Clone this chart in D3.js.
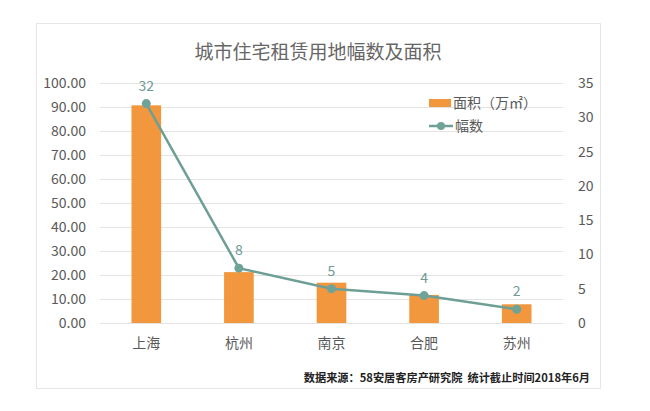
<!DOCTYPE html>
<html>
<head>
<meta charset="utf-8">
<script src="https://cdn.jsdelivr.net/npm/d3@7"></script>
<style>
  body { margin: 0; background: #fff; }
  text { font-family: "Noto Sans CJK SC", "Noto Sans", sans-serif; }
</style>
</head>
<body>
<svg id="chart" width="650" height="411"></svg>
<script>
const cities = ["上海", "杭州", "南京", "合肥", "苏州"]
const areas = [90.7, 21.2, 16.8, 11.7, 7.8]      // 面积（万㎡）
const counts = [32, 8, 5, 4, 2]                    // 幅数
const leftTicks = [0, 10, 20, 30, 40, 50, 60, 70, 80, 90, 100]
const rightTicks = [0, 5, 10, 15, 20, 25, 30, 35]

const svg = d3.select("#chart")
const m = {left: 100, right: 563, top: 83, bottom: 323}

//frame
svg.append("rect")
  .attr("x", 36.5).attr("y", 23.5).attr("width", 564).attr("height", 365)
  .attr("fill", "#fff").attr("stroke", "#e6e6e6")

//title
svg.append("text")
  .attr("x", 318).attr("y", 59).attr("text-anchor", "middle")
  .attr("font-size", 19).attr("fill", "#666")
  .text("城市住宅租赁用地幅数及面积")

let x = d3.scaleBand().domain(cities).range([m.left, m.right])
  .paddingInner(0.68).paddingOuter(0.34)
let yL = d3.scaleLinear().domain([0, 100]).range([m.bottom, m.top])
let yR = d3.scaleLinear().domain([0, 35]).range([m.bottom, m.top])

//grid
svg.append("g").selectAll("line")
  .data(leftTicks).enter().append("line")
  .attr("x1", m.left).attr("x2", m.right)
  .attr("y1", d => yL(d) + 0.5).attr("y2", d => yL(d) + 0.5)
  .attr("stroke", "#e3e3e3")

//left axis
let axL = svg.append("g").attr("transform", `translate(${m.left - 14},0)`)
  .call(d3.axisLeft(yL).tickValues(leftTicks).tickFormat(d3.format(".2f")).tickSize(0).tickPadding(0))
axL.select(".domain").remove()
axL.selectAll("text").attr("font-size", 14).attr("fill", "#595959")

//right axis
let axR = svg.append("g").attr("transform", `translate(${m.right + 15},0)`)
  .call(d3.axisRight(yR).tickValues(rightTicks).tickSize(0).tickPadding(0))
axR.select(".domain").remove()
axR.selectAll("text").attr("font-size", 14).attr("fill", "#595959")

//category axis
let axB = svg.append("g").attr("transform", `translate(0,${m.bottom + 15})`)
  .call(d3.axisBottom(x).tickSize(0).tickPadding(0))
axB.select(".domain").remove()
axB.selectAll("text").attr("font-size", 14).attr("fill", "#595959")

//bars
svg.append("g").selectAll("rect")
  .data(areas).enter().append("rect")
  .attr("x", (d, i) => x(cities[i]))
  .attr("width", x.bandwidth())
  .attr("y", d => yL(d))
  .attr("height", d => yL(0) - yL(d))
  .attr("fill", "#f2973e")

//line
let cx = (d, i) => x(cities[i]) + x.bandwidth() / 2
svg.append("path")
  .datum(counts)
  .attr("d", d3.line().x(cx).y(d => yR(d)))
  .attr("fill", "none").attr("stroke", "#6e9f96").attr("stroke-width", 2.5)

svg.append("g").selectAll("circle")
  .data(counts).enter().append("circle")
  .attr("cx", cx).attr("cy", d => yR(d)).attr("r", 4.5)
  .attr("fill", "#6fa398")

svg.append("g").selectAll("text")
  .data(counts).enter().append("text")
  .attr("x", cx).attr("y", d => yR(d) - 13)
  .attr("text-anchor", "middle").attr("font-size", 14).attr("fill", "#6e9a94")
  .text(d => d)

//legend
let lg = svg.append("g").attr("transform", "translate(429,0)")
lg.append("rect").attr("x", 0).attr("y", 99).attr("width", 22).attr("height", 8).attr("fill", "#f2973e")
lg.append("text").attr("x", 24).attr("y", 108).attr("font-size", 14).attr("fill", "#595959")
  .text("面积（万㎡）")
lg.append("line").attr("x1", 0).attr("x2", 24).attr("y1", 126).attr("y2", 126)
  .attr("stroke", "#6e9f96").attr("stroke-width", 2.5)
lg.append("circle").attr("cx", 12).attr("cy", 126).attr("r", 4).attr("fill", "#6fa398")
lg.append("text").attr("x", 26).attr("y", 131).attr("font-size", 14).attr("fill", "#595959")
  .text("幅数")

//source note
svg.append("text")
  .attr("x", 590).attr("y", 382).attr("text-anchor", "end")
  .attr("font-size", 11.2).attr("font-weight", "bold").attr("fill", "#222")
  .style("white-space", "pre")
  .text("数据来源：58安居客房产研究院  统计截止时间2018年6月")
</script>
</body>
</html>
